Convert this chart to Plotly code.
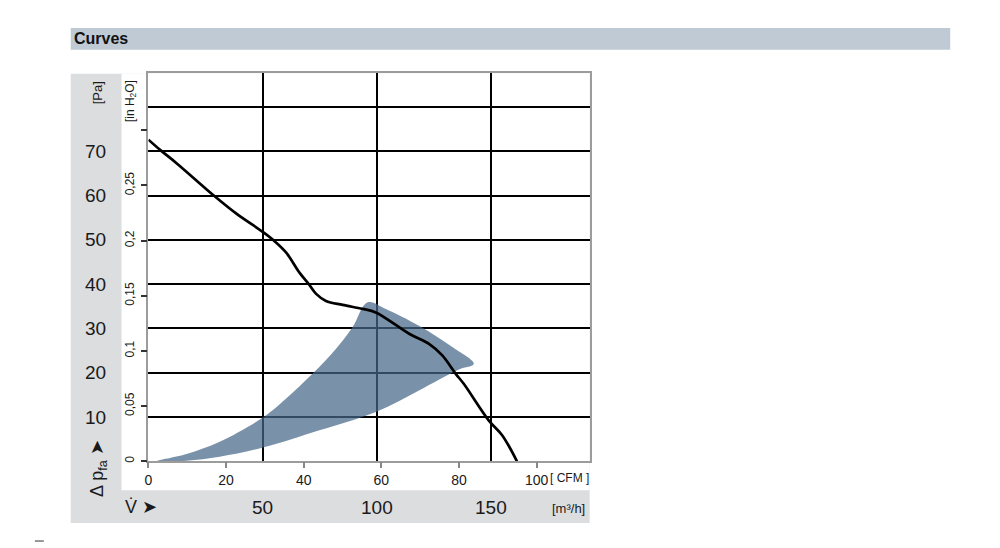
import plotly.graph_objects as go

# ---------------- data ----------------
# characteristic curve: volume flow [m³/h] vs static pressure [Pa]
curve_flow_m3h = [0, 5.1, 12.3, 28.6, 38.5, 50, 54.5, 60.3, 66.1, 70.2, 73.4, 77.7,
                  85, 93.7, 99.5, 114.1, 122.8, 128.6, 134.4, 138, 149, 154.8, 161.3]
curve_press_pa = [72.6, 70.3, 67.3, 60, 55.9, 51.8, 50, 47.1, 42.6, 40, 37.8, 36.2,
                  35.3, 34.4, 33.6, 28.8, 26.5, 23.9, 19.8, 17.5, 9.2, 5.9, 0]

# operating range (shaded area), outline traced clockwise
area_flow_m3h = [3.6, 16.7, 31.2, 50.1, 60.3, 71.9, 82.1, 89.4, 95.9,
                 103.9, 118.4, 133.0, 142.4,
                 135.9, 118.4, 99.8, 74.8, 50.1, 31.2, 16.7, 3.6]
area_press_pa = [0, 1.65, 4.4, 9.9, 14.2, 19.8, 25.4, 30.3, 35.9,
                 34.4, 30.6, 25.8, 22.0,
                 20.7, 16.0, 11.2, 7.0, 3.1, 1.05, 0.15, 0]

# axis ticks
pa_ticks = [10, 20, 30, 40, 50, 60, 70]
pa_grid = [10, 20, 30, 40, 50, 60, 70, 80]
m3h_ticks = [50, 100, 150]
cfm_ticks = [0, 20, 40, 60, 80, 100]
inh2o_ticks = [0, 0.05, 0.1, 0.15, 0.2, 0.25, 0.3]
inh2o_labels = ["0", "0,05", "0,1", "0,15", "0,2", "0,25", ""]

X_MAX = 193.1   # m³/h at right border
Y_MAX = 87.6    # Pa at top border
M3H_PER_CFM = 1.699
PA_PER_INH2O = 249.089

W, H = 1000, 548
FONT = "Liberation Sans Narrow, Liberation Sans, Arial, sans-serif"
TXT = "#1a1a1a"


def px(x):
    return x / W


def py(y):
    return (H - y) / H


fig = go.Figure()

fig.add_trace(go.Scatter(
    x=area_flow_m3h, y=area_press_pa, mode="lines", fill="toself",
    fillcolor="rgba(70,104,136,0.72)", line=dict(width=0, shape="spline", smoothing=1.0),
    hoverinfo="skip", showlegend=False))

fig.add_trace(go.Scatter(
    x=curve_flow_m3h, y=curve_press_pa, mode="lines",
    line=dict(color="black", width=2.7, shape="spline", smoothing=1.0),
    showlegend=False))

# helper empty traces so secondary axes are drawn
fig.add_trace(go.Scatter(x=[], y=[], xaxis="x2", yaxis="y", showlegend=False))
fig.add_trace(go.Scatter(x=[], y=[], xaxis="x", yaxis="y2", showlegend=False))

dom_x = [px(145), px(588)]
dom_y = [py(463), py(73.5)]

fig.update_layout(
    width=W, height=H,
    margin=dict(l=0, r=0, t=0, b=0),
    paper_bgcolor="white",
    plot_bgcolor="rgba(0,0,0,0)",
    font=dict(family=FONT, color=TXT),
    showlegend=False,
    xaxis=dict(domain=dom_x, range=[0, X_MAX], tickvals=m3h_ticks, showticklabels=False,
               ticks="", showgrid=True, gridcolor="black", gridwidth=1.6, zeroline=False,
               showline=True, linecolor="#9c9c9c", linewidth=1.5, mirror=True, fixedrange=True),
    yaxis=dict(domain=dom_y, range=[0, Y_MAX], tickvals=pa_grid, showticklabels=False,
               ticks="", showgrid=True, gridcolor="black", gridwidth=1.6, zeroline=False,
               showline=True, linecolor="#9c9c9c", linewidth=1.5, mirror=True, fixedrange=True),
    xaxis2=dict(overlaying="x", anchor="y", side="bottom",
                range=[0, X_MAX / M3H_PER_CFM], tickvals=cfm_ticks,
                ticks="outside", ticklen=6, tickwidth=1.5, tickcolor="#888",
                showgrid=False, zeroline=False, showline=False, fixedrange=True,
                tickfont=dict(size=14, color=TXT, family=FONT)),
    yaxis2=dict(overlaying="y", anchor="x", side="left",
                range=[0, Y_MAX / PA_PER_INH2O], tickvals=inh2o_ticks, ticktext=inh2o_labels,
                tickangle=-90, ticks="outside", ticklen=6, tickwidth=1.5, tickcolor="#333",
                ticklabelstandoff=3, fixedrange=True,
                showgrid=False, zeroline=False, showline=False,
                tickfont=dict(size=12, color=TXT, family=FONT)),
)

shapes = [
    # header bar
    dict(type="rect", xref="paper", yref="paper", x0=px(67), x1=px(950), y0=py(50), y1=py(28),
         fillcolor="#bfcad5", line=dict(width=0), layer="below"),
    # grey panel
    dict(type="rect", xref="paper", yref="paper", x0=px(67), x1=px(588), y0=py(525), y1=py(74),
         fillcolor="#dcdddf", line=dict(width=0), layer="below"),
    # white inner panel
    dict(type="rect", xref="paper", yref="paper", x0=px(118), x1=px(588), y0=py(492), y1=py(74),
         fillcolor="white", line=dict(width=0), layer="below"),
    # small dash bottom left
    dict(type="line", xref="paper", yref="paper", x0=px(31), x1=px(40), y0=py(543), y1=py(543),
         line=dict(color="#333", width=1)),
]
fig.update_layout(shapes=shapes)


def note(text, x, y, size, xref="paper", yref="paper", angle=0, xanchor="center", color=TXT):
    return dict(text=text, x=x, y=y, xref=xref, yref=yref, xanchor=xanchor, yanchor="middle",
                textangle=angle, showarrow=False, font=dict(size=size, color=color, family=FONT))


ann = [note("<b>Curves</b>", px(68), py(39), 16, xanchor="left", color="#111")]
for v in pa_ticks:
    ann.append(note(str(v), px(92), v, 19, yref="y"))
for v in m3h_ticks:
    ann.append(note(str(v), v, py(509), 19, xref="x"))
ann.append(note("[Pa]", px(94), py(93), 13, angle=-90))
ann.append(note("[in H<sub>2</sub>O]", px(127), py(101), 12, angle=-90))
ann.append(note("Δ p<sub>fa</sub> ➤", px(95), py(470), 18, angle=-90))
ann.append(note("V\u0307 ➤", px(138), py(509), 18))
ann.append(note("[m³/h]", px(567), py(510), 13))
ann.append(note("[ CFM ]", px(568), py(480), 12))
fig.update_layout(annotations=ann)

fig.write_html("out.html", config={"displayModeBar": False},
               post_script="document.body.style.margin='0px';")
